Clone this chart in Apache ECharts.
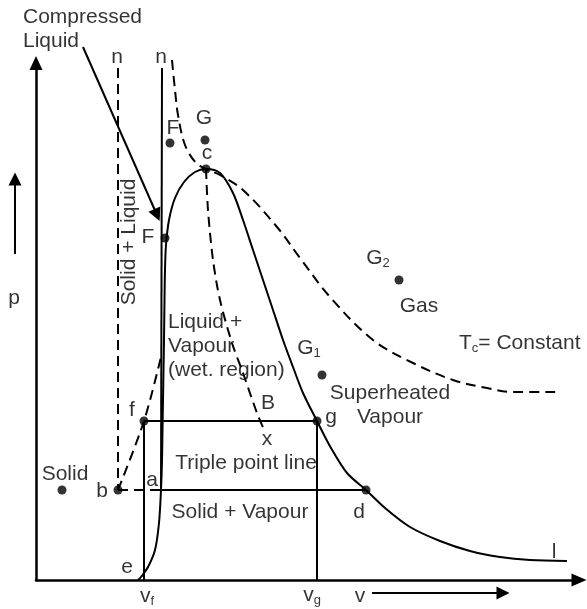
<!DOCTYPE html>
<html>
<head>
<meta charset="utf-8">
<script src="https://cdn.jsdelivr.net/npm/echarts@6/dist/echarts.min.js"></script>
<style>
  html, body { margin: 0; padding: 0; background: #fff; }
  #chart { width: 587px; height: 609px; }
</style>
</head>
<body>
<div id="chart"></div>
<script>
// p–v diagram of a pure substance: specific volume v (x) against pressure p (y), arbitrary units.

// Saturation dome: saturated-liquid branch e–a–F–c and saturated-vapour branch c–g–d–l
const saturationDome = [
  [102, 0], [105, 3], [112, 13], [119, 30], [123, 57], [125, 90], [126, 120], [126.5, 150],
  [127, 180], [127.5, 210], [128, 240], [128.5, 280], [129, 310], [130, 335], [133, 360],
  [139, 382], [148, 398], [159, 408], [170, 411], [184, 407], [197, 387], [207, 360],
  [217, 330], [227, 300], [237, 270], [247, 240], [257, 213], [267, 187], [281, 159],
  [295, 132], [311, 107], [330, 90], [349, 72], [374, 53], [404, 39], [434, 29],
  [464, 23], [494, 20], [531, 19]
];
// Critical isotherm T = Tc
const criticalIsotherm = [
  [136, 520], [139, 490], [142, 465], [149, 435], [160, 417], [170, 411], [184, 405],
  [207, 390], [241, 353], [264, 322], [294, 283], [337, 240], [377, 217], [417, 200],
  [451, 192], [477, 188], [524, 188]
];
// Dashed line from the critical point c down to x
const qualityLine = [[170, 411], [172, 370], [177, 320], [184, 280], [196, 237], [207, 207], [221, 167], [229, 148]];
// Solid–liquid boundaries
const fusionLineDashed = [[82, 512], [82, 90]];
const fusionLineSolid = [[126, 512], [125, 90]];
const meltingCurve = [[82, 90], [108, 159], [126, 227]];
// Triple point line b–a–d and the f–g line
const tripleDashed = [[82, 90], [125, 90]];
const tripleSolid = [[125, 90], [330, 90]];
const liquidVapourLine = [[108, 159], [281, 159]];
const vfLine = [[108, 159], [108, 0]];
const vgLine = [[281, 159], [281, 0]];

// State points
const statePoints = [
  [170, 411], [169, 440], [134, 437], [129, 342], [108, 159], [281, 159],
  [82, 90], [330, 90], [26, 90], [363, 300], [286, 205]
];

// Arrows: compressed-liquid pointer, p direction, v direction
const arrowLines = [
  [[47, 533], [121, 365]],
  [[-21, 326], [-21, 401]],
  [[336, -13], [467, -13]]
];

// Text annotations and where they sit
const labelTexts = [
  'Compressed\nLiquid', 'n', 'n', 'F', 'G', 'c', 'F', 'Solid + Liquid',
  'Liquid +\nVapour\n(wet. region)', '{t|G}{s|2}', 'Gas', '{t|G}{s|1}',
  '{t|T}{s|c}{t|= Constant}', 'Superheated\nVapour', 'f', 'g', 'B', 'x',
  'Triple point line', 'Solid', 'b', 'a', 'd', 'Solid + Vapour', 'e', 'l',
  '{t|v}{s|f}', '{t|v}{s|g}', 'v', 'p'
];
const labelAnchors = [
  [-13, 551], [81, 523], [125, 523], [137, 452], [168, 462], [171, 427], [112, 343], [93, 338],
  [132, 234], [342, 322], [383, 274], [273, 232],
  [423, 237], [354, 175], [96, 170], [295, 163], [232, 177], [231, 141],
  [210, 117], [29, 106], [66, 89], [116, 100], [323, 68], [204, 68], [91, 13], [518, 28],
  [111, -16], [276, -15], [324, -16], [-22, 282]
];
const labelAlign = { 0: 'left', 8: 'left', 12: 'left' };
const labelRotate = { 7: 90 };

const FONT = '"Liberation Sans", Arial, Helvetica, sans-serif';
const INK = '#000';

function curve(data, opts) {
  return Object.assign({
    type: 'line',
    data: data,
    symbol: 'none',
    clip: false,
    silent: true,
    lineStyle: { color: INK, width: 2 }
  }, opts || {});
}

const dashed = { color: INK, width: 2, type: [10, 6] };

const chart = echarts.init(document.getElementById('chart'), null, { renderer: 'canvas' });
chart.setOption({
  animation: false,
  backgroundColor: '#fff',
  grid: { left: 36, right: 8, top: 63, bottom: 29 },
  xAxis: {
    type: 'value', min: 0, max: 543,
    axisLine: { show: true, onZero: false, symbol: ['none', 'triangle'], symbolSize: [13, 15],
      lineStyle: { color: INK, width: 2.5 } },
    axisTick: { show: false }, axisLabel: { show: false }, splitLine: { show: false }
  },
  yAxis: {
    type: 'value', min: 0, max: 517,
    axisLine: { show: true, onZero: false, symbol: ['none', 'triangle'], symbolSize: [13, 14],
      lineStyle: { color: INK, width: 2.5 } },
    axisTick: { show: false }, axisLabel: { show: false }, splitLine: { show: false }
  },
  series: [
    curve(saturationDome, { smooth: 0.3 }),
    curve(criticalIsotherm, { smooth: 0.35, lineStyle: dashed }),
    curve(qualityLine, { smooth: 0.3, lineStyle: dashed }),
    curve(fusionLineDashed, { lineStyle: dashed }),
    curve(fusionLineSolid),
    curve(meltingCurve, { smooth: 0.3, lineStyle: dashed }),
    curve(tripleDashed, { lineStyle: dashed }),
    curve(tripleSolid),
    curve(liquidVapourLine),
    curve(vfLine),
    curve(vgLine),
    {
      type: 'lines',
      coordinateSystem: 'cartesian2d',
      silent: true,
      clip: false,
      symbol: ['none', 'triangle'],
      symbolSize: 13,
      lineStyle: { color: INK, width: 2, opacity: 1 },
      data: arrowLines.map(c => ({ coords: c }))
    },
    {
      type: 'scatter',
      data: statePoints,
      symbol: 'circle',
      symbolSize: 9,
      clip: false,
      silent: true,
      itemStyle: { color: INK }
    },
    {
      type: 'scatter',
      symbolSize: 0,
      clip: false,
      silent: true,
      data: labelTexts.map((t, i) => ({
        value: labelAnchors[i],
        label: {
          formatter: t,
          align: labelAlign[i] || 'center',
          rotate: labelRotate[i] || 0
        }
      })),
      label: {
        show: true,
        position: 'inside',
        color: INK,
        fontFamily: FONT,
        fontSize: 21,
        lineHeight: 24,
        verticalAlign: 'middle',
        rich: {
          t: { fontSize: 21, fontFamily: FONT, color: INK, lineHeight: 24 },
          s: { fontSize: 13, fontFamily: FONT, color: INK, verticalAlign: 'bottom', lineHeight: 24 }
        }
      }
    }
  ]
});
</script>
</body>
</html>
